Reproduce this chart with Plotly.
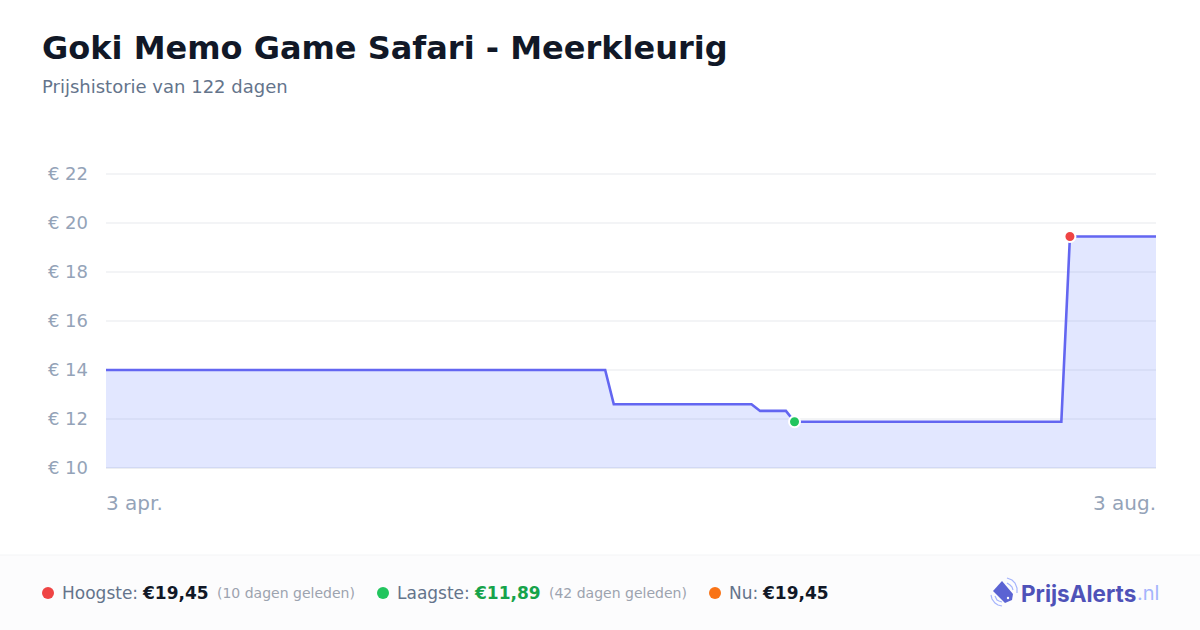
import plotly.graph_objects as go

dates = ["2025-04-03", "2025-05-31", "2025-06-01", "2025-06-17", "2025-06-18",
         "2025-06-21", "2025-06-22", "2025-07-23", "2025-07-24", "2025-08-03"]
prices = [14.0, 14.0, 12.6, 12.6, 12.33, 12.33, 11.89, 11.89, 19.45, 19.45]
high_date = ["2025-07-24"]
high_price = [19.45]
low_date = ["2025-06-22"]
low_price = [11.89]
y_ticks = [10, 12, 14, 16, 18, 20, 22]
y_labels = ["€ 10", "€ 12", "€ 14", "€ 16", "€ 18", "€ 20", "€ 22"]

W, H = 1200, 630
INK = "#111827"
SLATE = "#64748b"
MUTED = "#94a3b8"
GREY = "#9ca3af"
FONT = "DejaVu Sans"


# page pixels to paper coordinates (margins are zero)
def px(x):
    return x / W


def py(y):
    return 1 - y / H


def label(x, y, text, size, color, anchor="left", bold=False, family=FONT):
    return dict(
        x=px(x), y=py(y), xref="paper", yref="paper", text=f"<b>{text}</b>" if bold else text,
        showarrow=False, xanchor=anchor, yanchor="middle", borderpad=0,
        font=dict(family=family, size=size, color=color),
    )


def dot(x, y, r, color):
    return dict(
        type="circle", xref="paper", yref="paper", layer="above",
        x0=px(x - r), x1=px(x + r), y0=py(y + r), y1=py(y - r),
        fillcolor=color, line_width=0,
    )


def path(points, close=False, fill=None, color=None, width=0):
    d = "M " + " L ".join(f"{px(x):.5f},{py(y):.5f}" for x, y in points) + (" Z" if close else "")
    return dict(
        type="path", xref="paper", yref="paper", path=d, layer="above",
        fillcolor=fill, line=dict(color=color, width=width),
    )


fig = go.Figure()
fig.add_trace(go.Scatter(
    x=dates, y=prices, mode="lines", fill="tozeroy",
    fillcolor="rgba(102,125,255,0.19)",
    line=dict(color="#6366f1", width=2.6),
    cliponaxis=False, hoverinfo="skip",
))
fig.add_trace(go.Scatter(
    x=high_date, y=high_price, mode="markers", cliponaxis=False,
    marker=dict(color="#ef4444", size=11, line=dict(color="white", width=2)),
))
fig.add_trace(go.Scatter(
    x=low_date, y=low_price, mode="markers", cliponaxis=False,
    marker=dict(color="#22c55e", size=11, line=dict(color="white", width=2)),
))

annotations = [
    label(41, 48, "Goki Memo Game Safari - Meerkleurig", 32, INK, bold=True),
    label(41, 87, "Prijshistorie van 122 dagen", 18, SLATE),
    label(105, 503, "3 apr.", 20, MUTED),
    label(1157, 503, "3 aug.", 20, MUTED, anchor="right"),
    label(61, 593, "Hoogste:", 17, SLATE),
    label(141, 593, "€19,45", 17, INK, bold=True),
    label(216, 593, "(10 dagen geleden)", 14, GREY),
    label(396, 593, "Laagste:", 17, SLATE),
    label(473, 593, "€11,89", 17, "#16a34a", bold=True),
    label(548, 593, "(42 dagen geleden)", 14, GREY),
    label(728, 593, "Nu:", 17, SLATE),
    label(761, 593, "€19,45", 17, INK, bold=True),
    label(1020, 593, "PrijsAlerts", 22.5, "#4f52b8", bold=True, family="Inter"),
    label(1136, 593, ".nl", 20, "#a5b4fc", family="Inter"),
]

shapes = [
    dict(type="rect", xref="paper", yref="paper", layer="below",
         x0=0, x1=1, y0=0, y1=py(555), fillcolor="#fcfcfd", line_width=0),
    dict(type="line", xref="paper", yref="paper", layer="below",
         x0=0, x1=1, y0=py(555), y1=py(555), line=dict(color="#f3f4f6", width=1)),
    dot(48, 593, 6, "#ef4444"),
    dot(383, 593, 6, "#22c55e"),
    dot(715, 593, 6, "#f97316"),
    # logo: tag with signal arcs on both sides
    path([(1002, 581), (1013, 594), (1012, 600), (1005, 603), (993, 591)],
         close=True, fill="#5b63d3"),
    dot(1008, 598, 1.2, "white"),
    path([(1007, 578), (1012, 580), (1015, 583), (1017, 588), (1017, 593)], color="#a5b4fc", width=1.2),
    path([(1007, 583), (1010, 585), (1012, 587), (1013, 590)], color="#a5b4fc", width=1.2),
    path([(991, 595), (992, 599), (995, 603), (998, 605), (1002, 606)], color="#a5b4fc", width=1.2),
    path([(995, 596), (997, 600), (999, 601), (1002, 602)], color="#a5b4fc", width=1.2),
    dict(type="line", xref="paper", yref="paper", layer="below",
         x0=px(106), x1=px(1156), y0=py(468), y1=py(468),
         line=dict(color="#eceef2", width=2)),
]

fig.update_layout(
    width=W, height=H, margin=dict(l=0, r=0, t=0, b=0),
    paper_bgcolor="white", plot_bgcolor="white", showlegend=False,
    annotations=annotations, shapes=shapes, hovermode=False,
    font=dict(family=FONT),
)
fig.update_xaxes(
    domain=[px(106), px(1156)], range=[dates[0], dates[-1]], type="date",
    showticklabels=False, showgrid=False, zeroline=False, ticks="", automargin=False,
)
# top of range 4px past 22, plotly drops a gridline sitting on the plot edge
fig.update_yaxes(
    domain=[py(468), py(170)], range=[10, 22.1633], tickvals=y_ticks, ticktext=y_labels,
    showgrid=True, gridcolor="#f3f4f6", gridwidth=2, zeroline=False,
    ticks="", ticklabelstandoff=17, layer="below traces", automargin=False,
    tickfont=dict(family=FONT, size=18, color=MUTED),
)

fig.write_html("out.html", config={"displayModeBar": False},
               post_script="document.body.style.margin = '0';")
